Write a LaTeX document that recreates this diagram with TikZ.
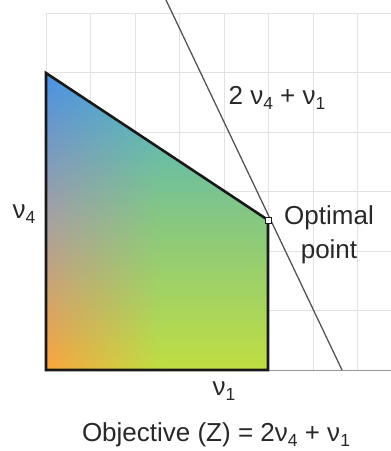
\documentclass[tikz,border=0pt]{standalone}
\usepackage{fontspec}
\setmainfont{Liberation Sans}
\newcommand{\mysub}[1]{\raisebox{-5pt}{\fontsize{17.5}{17.5}\selectfont #1}}
\definecolor{cBlue}{RGB}{72,145,228}
\definecolor{cGray}{RGB}{168,160,162}
\definecolor{cOrange}{RGB}{250,165,60}
\definecolor{cTeal}{RGB}{72,178,208}
\definecolor{cGreen}{RGB}{135,200,128}
\definecolor{cYel}{RGB}{192,222,66}
\definecolor{gridc}{RGB}{226,226,226}
\definecolor{axisc}{RGB}{150,150,150}
\definecolor{linec}{RGB}{85,85,85}
\definecolor{polyc}{RGB}{25,25,25}
\definecolor{textc}{RGB}{40,40,40}
\tikzset{
  gridline/.style={draw=gridc, line width=0.9pt},
  axisline/.style={draw=axisc, line width=1pt},
  polyline/.style={draw=polyc, line width=2.6pt, line join=miter},
  objline/.style={draw=linec, line width=1.3pt},
  marker/.style={draw=polyc, fill=white, line width=1pt, minimum size=6pt, inner sep=0pt, rectangle},
  lbl/.style={text=textc, inner sep=0pt, font=\fontsize{26}{34}\selectfont}
}
\begin{document}
\begin{tikzpicture}[x=1pt,y=-1pt]
\useasboundingbox (0,0) rectangle (391,451);
% grid
\foreach \gx in {90.5,135,179.5,224,268.5,313,357.5}
  \draw[gridline] (\gx,13) -- (\gx,370);
\draw[gridline] (46,13) -- (46,370);
\foreach \gy in {13,72.5,132,191.5,251,310.5}
  \draw[gridline] (46,\gy) -- (391,\gy);
% corners of the feasible region
\coordinate (O) at (46,370);
\coordinate (A) at (46,73);
\coordinate (P) at (268,220);
\coordinate (B) at (268,370);
% gradient fill, row by row
\begin{scope}
  \clip (O) -- (A) -- (P) -- (B) -- cycle;
  \foreach \i in {0,...,59} {
    \pgfmathsetmacro\ya{73+\i*4.95}
    \pgfmathsetmacro\yb{73+(\i+1)*4.95+0.8}
    \ifnum\i<30
      \pgfmathtruncatemacro\s{round(100*(\i+0.5)/30)}
      \colorlet{edgec}{cGray!\s!cBlue}
      \colorlet{intc}{cGreen!\s!cTeal}
    \else
      \pgfmathtruncatemacro\s{round(100*(\i-29.5)/30)}
      \colorlet{edgec}{cOrange!\s!cGray}
      \colorlet{intc}{cYel!\s!cGreen}
    \fi
    \fill[intc] (160,\ya) rectangle (268,\yb);
    \shade[left color=edgec, right color=intc] (46,\ya) rectangle (160.5,\yb);
  }
\end{scope}
% x axis
\coordinate (XE) at (391,370);
\draw[axisline] (O) -- (XE);
% region border
\draw[polyline] (B) -- (O) -- (A) -- (P) -- cycle;
% objective line
\coordinate (L1) at (166,0);
\coordinate (L2) at (342,370);
\draw[objline] (L1) -- (L2);
% optimal point marker
\node[marker] (opt) at (P) {};
% labels
\node[lbl] (objlbl) at (277,98) {2 ν\mysub{4} + ν\mysub{1}};
\node[lbl] (v4) at (24,214) {ν\mysub{4}};
\node[lbl, align=center] (optlbl) at (329,235) {Optimal\\point};
\node[lbl] (v1) at (224,391) {ν\mysub{1}};
\node[lbl] (title) at (216,435) {Objective (Z) = 2ν\mysub{4} + ν\mysub{1}};
\end{tikzpicture}
\end{document}
